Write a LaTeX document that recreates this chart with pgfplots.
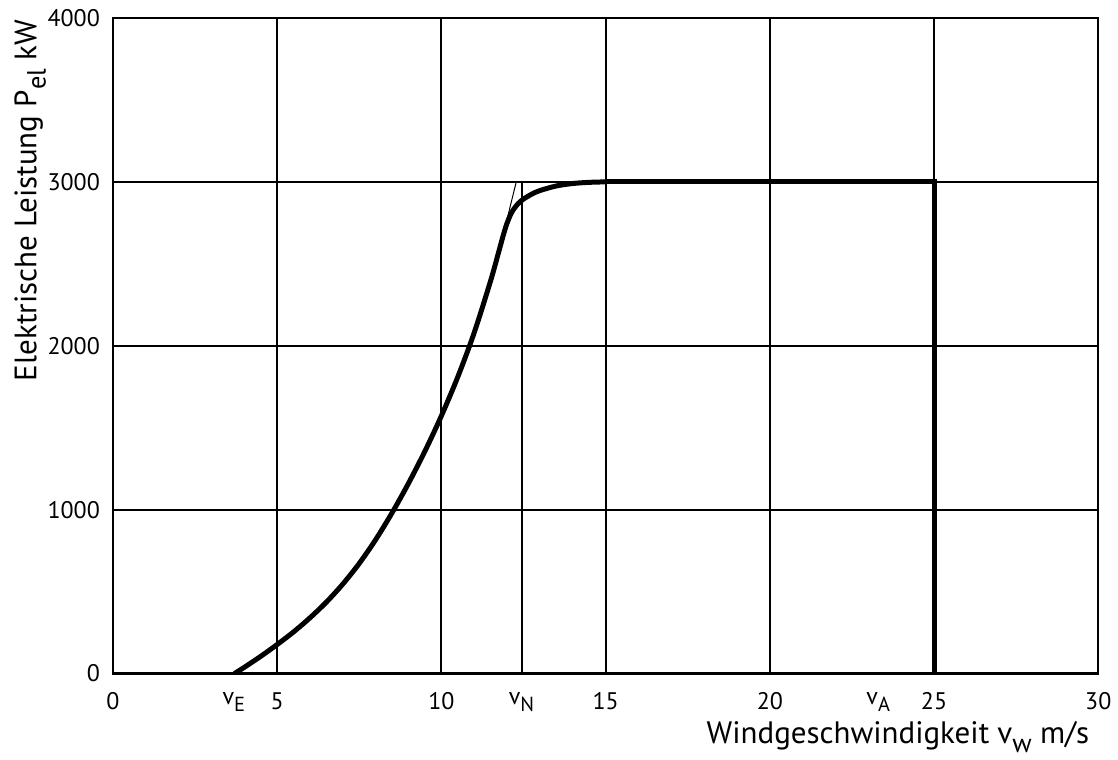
\documentclass[border=0pt]{standalone}
\usepackage{fontspec}
\setmainfont{PT Sans}
\usepackage{graphicx}
\usepackage{pgfplots}
\pgfplotsset{compat=1.18}
\newcommand{\sub}[1]{\raisebox{-0.6ex}{\scalebox{0.85}{#1}}}
\begin{document}
\begin{tikzpicture}
\begin{axis}[
  width=493pt, height=328pt, scale only axis,
  xmin=0, xmax=30, ymin=0, ymax=4000,
  xtick={0,5,...,30}, ytick={0,1000,...,4000},
  grid=major,
  major grid style={black, line width=0.9pt},
  axis line style={line width=1.2pt},
  major tick length=0pt,
  /pgf/number format/assume math mode=true,
  /pgf/number format/set thousands separator={},
  scaled y ticks=false,
  tick label style={font=\fontsize{12}{14}\selectfont},
  xticklabel style={yshift=-6pt},
  yticklabel style={xshift=-3pt},
  extra x ticks={3.68,12.44,23.3},
  extra x tick labels={v\sub{E},v\sub{N},v\sub{A}},
  extra x tick style={grid=none},
  xlabel={Windgeschwindigkeit v\sub{w} m/s},
  ylabel={Elektrische Leistung P\sub{el} kW},
  xlabel style={at={(axis description cs:1,0)}, anchor=base east, yshift=-35pt, xshift=-1pt, font=\fontsize{15.5}{17}\selectfont},
  ylabel style={at={(axis description cs:-0.084,1.0076)}, anchor=east, font=\fontsize{15.5}{17}\selectfont},
]
% rated-speed line
\addplot[black, line width=1pt] coordinates {(12.44,0) (12.44,3000)};
% tangent of the steep part
\addplot[black, line width=0.5pt] coordinates {(11.85,2650) (12.28,3000)};
% power curve
\addplot[black, line width=2.5pt, smooth, tension=0.5] coordinates {
  (3.7,0) (4.0,38) (4.5,105) (5.0,177) (5.5,254) (6.0,340) (6.5,436)
  (7.0,546) (7.5,672) (8.0,817) (8.5,981) (9.0,1161) (9.5,1357)
  (10.0,1572) (10.5,1810) (11.0,2080) (11.5,2397) (11.75,2576)
  (11.9,2685) (12.0,2748) (12.1,2797) (12.2,2833) (12.35,2870) (12.5,2895)
  (12.75,2925) (13.0,2947) (13.5,2975) (14.0,2990) (14.5,2997) (15.0,3000)
};
\addplot[black, line width=2.5pt, line join=miter] coordinates {
  (15.0,3000) (25,3000) (25,0)
};
\end{axis}
\path ([xshift=-56.5pt,yshift=-42pt]current axis.south west)
  rectangle ([xshift=9.5pt,yshift=9pt]current axis.north east);
\end{tikzpicture}
\end{document}
